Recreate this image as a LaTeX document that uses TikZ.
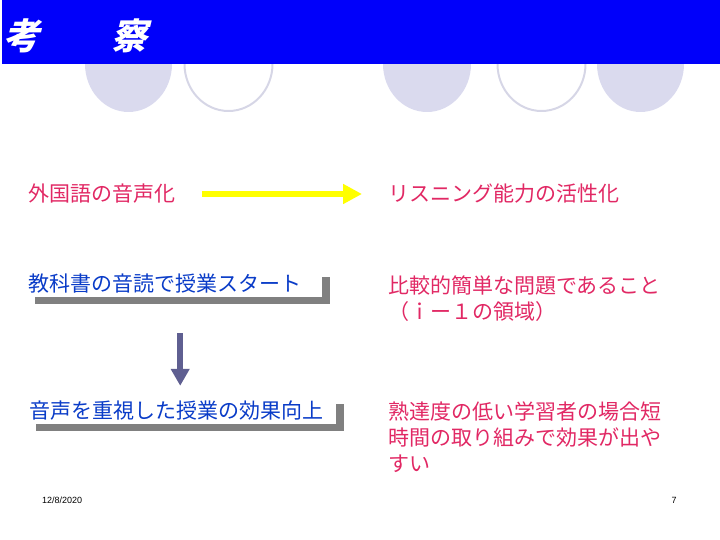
\documentclass[tikz,border=0pt]{standalone}
\usepackage{fontspec}
\newfontfamily\jpfont{Noto Sans CJK JP}
\newfontfamily\titlefont{Noto Sans CJK JP}[UprightFont=* Black, FakeSlant=0.25]
\newfontfamily\footfont{Liberation Sans}
\usepackage{xcolor}
\definecolor{bannerBlue}{RGB}{0,0,250}
\definecolor{ovalFill}{RGB}{218,218,238}
\definecolor{ovalRing}{RGB}{214,214,230}
\definecolor{notePink}{RGB}{225,40,100}
\definecolor{stepBlue}{RGB}{10,60,200}
\definecolor{shadowGray}{RGB}{128,128,128}
\definecolor{flowSlate}{RGB}{95,95,145}
\definecolor{flowYellow}{RGB}{255,255,0}
\usepackage{tikz}
\usetikzlibrary{arrows.meta,shadows,calc,positioning}
\tikzstyle{pinktext}=[anchor=west, inner sep=0pt, font=\jpfont\fontsize{21}{26}\selectfont, text=notePink, align=left]
\tikzstyle{bluebox}=[anchor=west, fill=white, inner xsep=1pt, inner ysep=0pt, minimum height=27pt, font=\jpfont\fontsize{21}{26}\selectfont, text=stepBlue, align=left, drop shadow={shadow xshift=8pt, shadow yshift=-7pt, fill=shadowGray, opacity=1}]
\tikzstyle{ovalfull}=[fill=ovalFill]
\tikzstyle{ovalring}=[draw=ovalRing, line width=2pt]
\tikzstyle{yellowarrow}=[-{Triangle[length=19pt,width=19pt]}, line width=6pt, color=flowYellow]
\tikzstyle{slatearrow}=[-{Triangle[length=17pt,width=18pt]}, line width=6pt, color=flowSlate]

\begin{document}
\begin{tikzpicture}[x=1pt, y=-1pt]
    \useasboundingbox (0,0) rectangle (720,540);

    % Ovale unter dem Balken
    \fill[ovalfull] (128.5, 64) ellipse (43.5 and 48);
    \draw[ovalring] (228.5, 64) ellipse (44 and 47);
    \fill[ovalfull] (427, 64) ellipse (44 and 48);
    \draw[ovalring] (541.5, 64) ellipse (44 and 47);
    \fill[ovalfull] (640.5, 64) ellipse (43.5 and 48);

    % Titelbalken
    \fill[bannerBlue] (2, 0) rectangle (720, 64);
    \node[anchor=west, inner sep=0pt, text=white, font=\titlefont\fontsize{36}{36}\selectfont] (title) at (3, 36) {考　　察};

    % Zeile 1
    \node[pinktext] (voice) at (28, 194) {外国語の音声化};
    \node[pinktext] (listen) at (388, 194) {リスニング能力の活性化};
    \draw[yellowarrow, shorten <=27pt, shorten >=26pt] (voice) -- (listen);

    % Zeile 2
    \node[bluebox, text width=293pt] (start) at (27, 283.5) {教科書の音読で授業スタート};
    \node[pinktext] (easy) at (388, 299) {比較的簡単な問題であること\\（ｉー１の領域）};

    % Zeile 3
    \node[bluebox, text width=306pt] (gain) at (28, 410.5) {音声を重視した授業の効果向上};
    \node[pinktext] (learner) at (388, 437) {熟達度の低い学習者の場合短\\時間の取り組みで効果が出や\\すい};

    % Pfeil nach unten
    \draw[slatearrow, shorten <=36pt, shorten >=11pt]
          ([xshift=5.5pt]start.south) -- ([xshift=5.5pt]start.south |- gain.north);

    % Fusszeile
    \node[anchor=west, inner sep=0pt, font=\footfont\fontsize{9}{10}\selectfont] (date) at (42, 500) {12/8/2020};
    \node[inner sep=0pt, font=\footfont\fontsize{9}{10}\selectfont] (page) at (674, 500) {7};
\end{tikzpicture}
\end{document}
